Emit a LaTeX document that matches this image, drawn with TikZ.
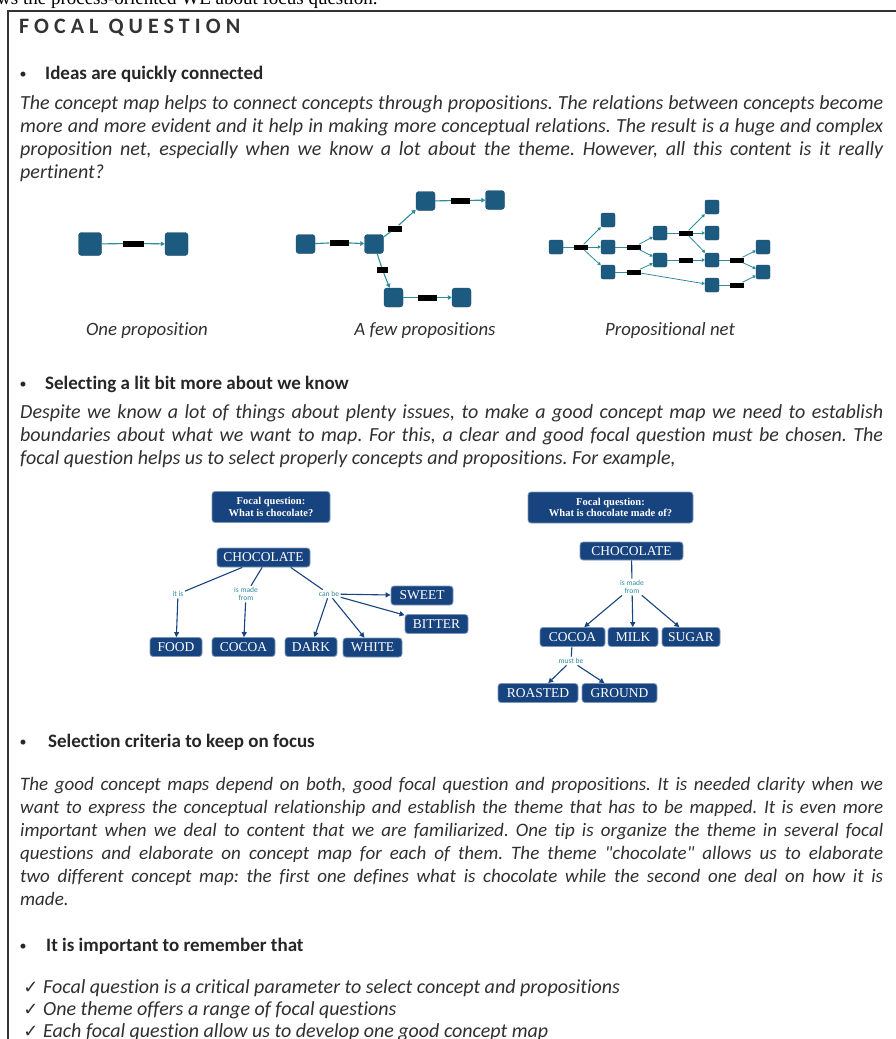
\documentclass[tikz,border=0pt]{standalone}
\usepackage{fontspec}
\setmainfont{Carlito}[Ligatures={NoCommon}]
\newfontfamily\serifpage{Liberation Serif}
\newfontfamily\symfont{DejaVu Sans}
\newfontfamily\titlefont[LetterSpace=23]{Carlito}
\usetikzlibrary{arrows.meta,positioning}

\definecolor{bodygray}{HTML}{303030}
\definecolor{mapblue}{HTML}{17437E}
\definecolor{netblue}{HTML}{1D5A80}
\definecolor{netteal}{HTML}{2C8C9C}

\newcommand\bodyfont{\fontsize{20}{23}\selectfont\itshape\frenchspacing}
\newcommand\headfont{\fontsize{19}{20}\selectfont\bfseries}
\newcommand\capfont{\fontsize{18.8}{20}\selectfont\itshape}
\newcommand\checkfont{\fontsize{20}{20}\selectfont\itshape}
\newcommand\mapfont{\serifpage\fontsize{13.5}{13.5}\selectfont}

\begin{document}
\begin{tikzpicture}[x=1pt, y=-1pt, every node/.style={inner sep=0pt},
    para/.style={text width=863pt, align=justify, font=\bodyfont, text=bodygray, anchor=base west},
    heading/.style={font=\headfont, text=black!85, anchor=base west},
    bulletmark/.style={font=\fontsize{14}{14}\selectfont, text=black!85, anchor=base},
    caption/.style={font=\capfont, text=bodygray, anchor=base},
    checkline/.style={font=\checkfont, text=bodygray, anchor=base west},
    tick/.style={font=\symfont\fontsize{18}{18}\selectfont, text=bodygray, anchor=base},
    sq/.style={rectangle, rounded corners=3pt, fill=netblue, draw=netblue!80!black, minimum size=#1},
    sq/.default=23pt,
    bar/.style={fill=black, minimum width=#1, minimum height=6pt},
    bar/.default=19pt,
    link/.style={draw=netteal, line width=1.1pt},
    linkarr/.style={link, -{Triangle[length=4pt,width=4.5pt]}},
    concept/.style={rectangle, rounded corners=3pt, fill=mapblue, draw=mapblue!55, line width=0.8pt, text=white, font=\mapfont, minimum height=19pt, inner xsep=3pt},
    focalbox/.style={concept, align=center, font=\serifpage\bfseries\fontsize{10.5}{11.5}\selectfont, minimum height=31pt},
    linkword/.style={font=\fontsize{7.5}{8}\selectfont, text=netteal, align=center, inner sep=1.5pt, fill=white},
    maparrow/.style={draw=mapblue, line width=1.1pt, -{Triangle[length=5pt,width=5pt]}},
    maplink/.style={draw=mapblue, line width=1.1pt}]

\useasboundingbox (0,0) rectangle (896,1039);
\fill[white] (0,0) rectangle (896,1039);

% page text above the box, cut by the page edge
\node[font=\serifpage\fontsize{19}{19}\selectfont, anchor=base west] (pagetext) at (-3,4) {ws the process-oriented WE about focus question.};
\draw[line width=1.5pt, black!80] (8,1045) -- (8,11) -- (900,11);

\node[anchor=base west, font=\titlefont\bfseries\fontsize{22}{22}\selectfont, text=black!80] (title) at (19,33) {FOCAL QUESTION};

% first section
\node[bulletmark] (b1) at (23,78) {\textbullet};
\node[heading] (h1) at (45,79) {Ideas are quickly connected};
\node[para] (p1) at (20,109.5) {The concept map helps to connect concepts through propositions. The relations between concepts become\linebreak
more and more evident and it help in making more conceptual relations. The result is a huge and complex\linebreak
proposition net, especially when we know a lot about the theme. However, all this content is it really\linebreak
pertinent?};

% one proposition
\node[sq] (one1) at (90,244) {};
\node[bar=21pt] (oneb) at (133.5,243.5) {};
\node[sq] (one2) at (176.5,244) {};
\draw[link] (one1) -- (oneb);
\draw[linkarr] (oneb) -- (one2);

% a few propositions
\node[sq=19pt] (fa) at (305.5,244) {};
\node[bar] (fab) at (339,242.5) {};
\node[sq=19pt] (fb) at (374,244) {};
\node[bar=14pt] (fbc) at (395,228.5) {};
\node[sq=19pt] (fc) at (425.5,201) {};
\node[bar] (fcd) at (460.5,200.5) {};
\node[sq=19pt] (fd) at (495,200) {};
\node[bar=11pt] (fbe) at (382.5,270) {};
\node[sq=19pt] (fe) at (393.5,297.5) {};
\node[bar] (fef) at (427.5,297.5) {};
\node[sq=19pt] (ff) at (461.5,297.5) {};
\draw[link] (fa) -- (fab);
\draw[linkarr] (fab) -- (fb);
\draw[link] (fb) -- (fbc);
\draw[linkarr] (fbc) -- (fc);
\draw[link] (fc) -- (fcd);
\draw[linkarr] (fcd) -- (fd);
\draw[link] (fb) -- (fbe);
\draw[linkarr] (fbe) -- (fe);
\draw[link] (fe) -- (fef);
\draw[linkarr] (fef) -- (ff);

% propositional net
\begin{scope}[link/.append style={line width=0.8pt},
    linkarr/.append style={-{Triangle[length=3pt,width=3.5pt]}}]
\foreach \n/\p in {n1/{556,247}, n2/{608,220}, n3/{608,247}, n4/{608,272}, n5/{660,233}, n6/{660,260},
    n7/{712,207}, n8/{712,233}, n9/{712,260}, n10/{712,285}, n11/{763,247}, n12/{763,272}}
  \node[sq=14pt, rounded corners=2pt] (\n) at (\p) {};
\foreach \q/\p in {q1/{581,247}, q2/{634,247}, q3/{634,272}, q4/{686,233}, q5/{686,260}, q6/{737,260}, q7/{737,285}}
  \node[bar=14pt, minimum height=5pt] (\q) at (\p) {};
\draw[link] (n1) -- (q1);
\foreach \t in {n2,n3,n4} \draw[linkarr] (q1) -- (\t);
\draw[link] (n3) -- (q2);
\foreach \t in {n5,n6} \draw[linkarr] (q2) -- (\t);
\draw[link] (n4) -- (q3);
\foreach \t in {n6,n10} \draw[linkarr] (q3) -- (\t);
\draw[link] (n5) -- (q4);
\foreach \t in {n7,n8,n9} \draw[linkarr] (q4) -- (\t);
\draw[link] (n6) -- (q5);
\draw[linkarr] (q5) -- (n9);
\draw[link] (n9) -- (q6);
\foreach \t in {n11,n12} \draw[linkarr] (q6) -- (\t);
\draw[link] (n10) -- (q7);
\draw[linkarr] (q7) -- (n12);
\end{scope}

\node[caption] (c1) at (147,335) {One proposition};
\node[caption] (c2) at (425,335) {A few propositions};
\node[caption] (c3) at (670,335) {Propositional net};

% second section
\node[bulletmark] (b2) at (23,388) {\textbullet};
\node[heading] (h2) at (45,389) {Selecting a lit bit more about we know};
\node[para] (p2) at (20,418.5) {Despite we know a lot of things about plenty issues, to make a good concept map we need to establish\linebreak
boundaries about what we want to map. For this, a clear and good focal question must be chosen. The\linebreak
focal question helps us to select properly concepts and propositions. For example,};

% concept map: what is chocolate
\node[focalbox, minimum width=118pt] (fq1) at (271,507) {Focal question:\\What is chocolate?};
\node[concept, minimum width=93pt] (ch1) at (263.5,557.5) {CHOCOLATE};
\node[linkword] (isit) at (178,594) {it is};
\node[linkword] (made1) at (246,594) {is made\\from};
\node[linkword] (canbe) at (329,594) {can be};
\node[concept, minimum width=62pt] (sweet) at (422,595.5) {SWEET};
\node[concept, minimum width=63pt] (bitter) at (436.5,624) {BITTER};
\node[concept, minimum width=52pt] (food) at (176,647) {FOOD};
\node[concept, minimum width=63pt] (cocoa1) at (243.5,647) {COCOA};
\node[concept, minimum width=52pt] (dark) at (311,647) {DARK};
\node[concept, minimum width=59pt] (white) at (372.5,647.5) {WHITE};
\draw[maplink] (ch1.205) -- (isit);
\draw[maparrow] (isit) -- (food);
\draw[maplink] (ch1.262) -- (made1);
\draw[maparrow] (made1) -- (cocoa1);
\draw[maplink] (ch1.340) -- (canbe);
\foreach \t in {sweet,bitter,dark,white} \draw[maparrow] (canbe) -- (\t);

% concept map: what is chocolate made of
\node[focalbox, minimum width=165pt] (fq2) at (610.5,507.5) {Focal question:\\What is chocolate made of?};
\node[concept, minimum width=103pt, minimum height=18pt] (ch2) at (631.5,551) {CHOCOLATE};
\node[linkword] (made2) at (632,587) {is made\\from};
\node[concept, minimum width=65pt] (cocoa2) at (572.5,637) {COCOA};
\node[concept, minimum width=50pt] (milk) at (633,637) {MILK};
\node[concept, minimum width=58pt] (sugar) at (691,637) {SUGAR};
\node[linkword] (mustbe) at (571,661) {must be};
\node[concept, minimum width=80pt] (roasted) at (538,693) {ROASTED};
\node[concept, minimum width=75pt] (ground) at (619.5,693) {GROUND};
\draw[maplink] (ch2) -- (made2);
\foreach \t in {cocoa2,milk,sugar} \draw[maparrow] (made2) -- (\t);
\draw[maplink] (cocoa2) -- (mustbe);
\foreach \t in {roasted,ground} \draw[maparrow] (mustbe) -- (\t);

% third section
\node[bulletmark] (b3) at (23,746) {\textbullet};
\node[heading] (h3) at (48,747) {Selection criteria to keep on focus};
\node[para, font=\fontsize{19}{23}\selectfont\itshape\frenchspacing] (p3) at (20,790) {The good concept maps depend on both, good focal question and propositions. It is needed clarity when we\linebreak
want to express the conceptual relationship and establish the theme that has to be mapped. It is even more\linebreak
important when we deal to content that we are familiarized. One tip is organize the theme in several focal\linebreak
questions and elaborate on concept map for each of them. The theme \textquotedbl chocolate\textquotedbl{} allows us to elaborate\linebreak
two different concept map: the first one defines what is chocolate while the second one deal on how it is\linebreak
made.};

% fourth section
\node[bulletmark] (b4) at (23,950) {\textbullet};
\node[heading] (h4) at (46,951) {It is important to remember that};
\foreach \k/\y/\txt in {k1/993/{Focal question is a critical parameter to select concept and propositions},
    k2/1015/{One theme offers a range of focal questions},
    k3/1037/{Each focal question allow us to develop one good concept map}} {
  \node[tick] (\k tick) at (31,\y) {✓};
  \node[checkline] (\k) at (43,\y) {\txt};
}

\end{tikzpicture}
\end{document}
